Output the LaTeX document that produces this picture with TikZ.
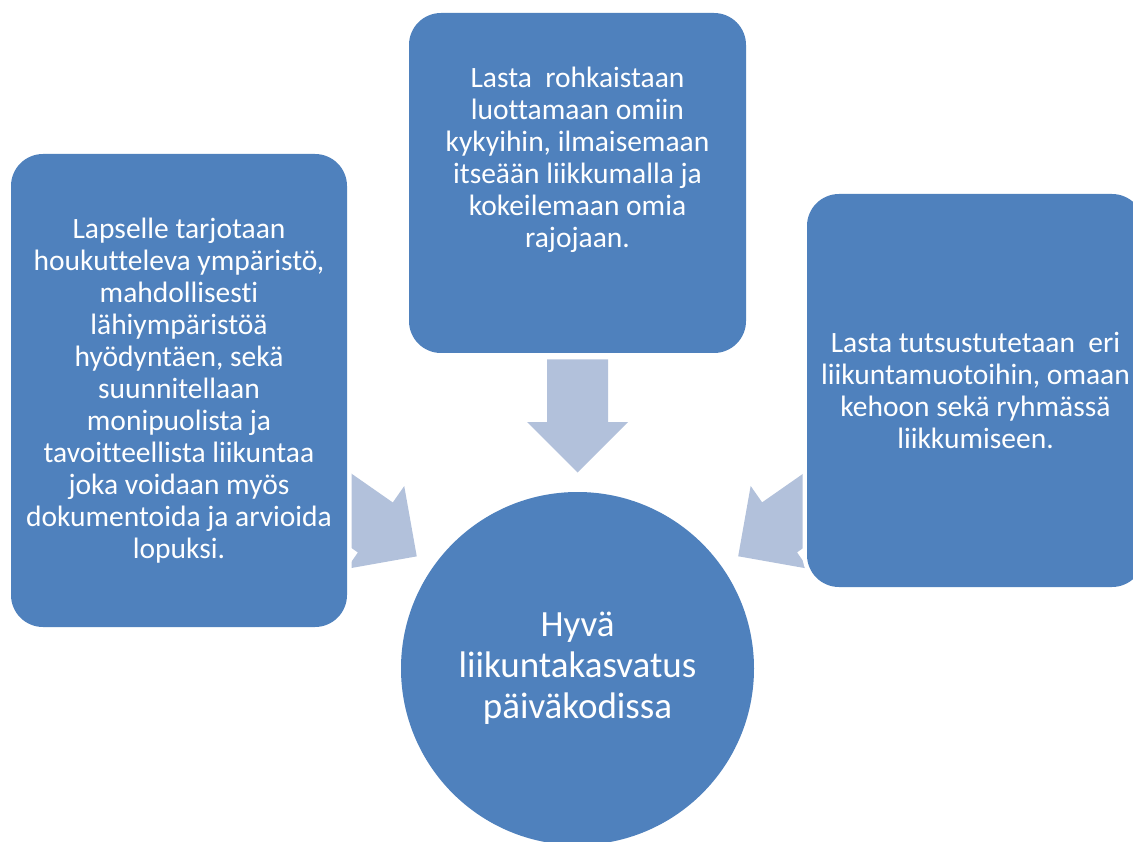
\documentclass[tikz,border=0pt]{standalone}
\usepackage{fontspec}
\setmainfont[Ligatures=NoCommon]{Carlito}
\usetikzlibrary{calc,backgrounds}
\definecolor{cBox}{HTML}{4F81BD}
\definecolor{cArr}{HTML}{B2C1DB}
\tikzset{
  box/.style  ={fill=cBox,text=white,rounded corners=32pt,align=center,inner sep=0pt,
                preaction={draw=white,line width=9pt},
                font=\fontsize{29.5}{32}\selectfont},
  hubc/.style ={circle,fill=cBox,text=white,align=center,inner sep=0pt,
                minimum size=353pt,preaction={draw=white,line width=9pt},
                font=\fontsize{37}{41}\selectfont},
  flow/.style ={fill=cArr},
}

\begin{document}
\begin{tikzpicture}[x=1pt,y=-1pt,every node/.style={outer sep=0pt}]
\useasboundingbox (0,0) rectangle (1133,842);

\node[hubc] (hub) at (577.5,668.5)
  {Hyvä\\ liikuntakasvatus\\ päiväkodissa};

\node[box,minimum width=336pt,minimum height=473pt] (lbox) at (179,390.5)
  {Lapselle tarjotaan\\ houkutteleva ympäristö,\\ mahdollisesti\\
   lähiympäristöä\\ hyödyntäen, sekä\\ suunnitellaan\\ monipuolista ja\\
   tavoitteellista liikuntaa\\ joka voidaan myös\\ dokumentoida ja arvioida\\ lopuksi.};
\node[box,minimum width=337pt,minimum height=340pt,
      text height=180pt,text depth=50pt] (tbox) at (577.5,183)
  {Lasta\ \ rohkaistaan\\ luottamaan omiin\\ kykyihin, ilmaisemaan\\
   itseään liikkumalla ja\\ kokeilemaan omia\\ rajojaan.};
\node[box,minimum width=337pt,minimum height=393pt] (rbox) at (975.5,390.5)
  {Lasta tutsustutetaan\ \ eri\\ liikuntamuotoihin, omaan\\
   kehoon sekä ryhmässä\\ liikkumiseen.};

% block arrows from each box towards the hub
\begin{scope}[on background layer]
\foreach \b in {lbox,tbox,rbox}{
  \pgfmathanglebetweenpoints{\pgfpointanchor{hub}{center}}{\pgfpointanchor{\b}{center}}
  \let\ang\pgfmathresult
  \fill[flow,shift={(hub.center)},rotate=\ang]
    (196pt,0pt) -- (246.5pt,50.5pt) -- (246.5pt,30.5pt) -- (309pt,30.5pt)
    -- (309pt,-30.5pt) -- (246.5pt,-30.5pt) -- (246.5pt,-50.5pt) -- cycle;
}
\end{scope}
\end{tikzpicture}
\end{document}
